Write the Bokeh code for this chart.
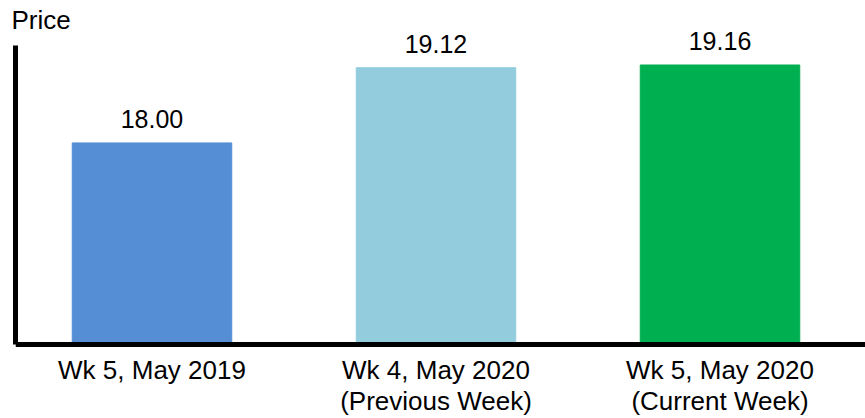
from bokeh.plotting import figure
from bokeh.models import Range1d, LabelSet, ColumnDataSource, FixedTicker, Title
from bokeh.core.properties import value
from bokeh.embed import file_html
from bokeh.resources import INLINE

categories = ["Wk 5, May 2019", "Wk 4, May 2020\n(Previous Week)", "Wk 5, May 2020\n(Current Week)"]
prices = [18.00, 19.12, 19.16]
price_labels = ["18.00", "19.12", "19.16"]
colors = ["#558ED5", "#93CDDD", "#00B050"]
y_base = 15.0            # value where the bars and the x axis start
y_start, y_end = 13.899, 19.703
axis_top = 19.45

FONT = "Liberation Sans"
xs = list(range(len(categories)))
src = ColumnDataSource(dict(x=xs, price=prices, label=price_labels, color=colors))

p = figure(width=865, height=418, output_backend="svg", toolbar_location=None,
           x_range=Range1d(-0.4806, 2.5123), y_range=Range1d(y_start, y_end),
           min_border_left=15, min_border_right=0, min_border_top=28, min_border_bottom=0)
p.title = Title(text="Price", align="left", text_font_size="26px", text_font=FONT,
                text_font_style="normal", text_color="#000000", offset=-4, standoff=-13)

p.vbar(x="x", top="price", bottom=y_base, width=0.5616, color="color", source=src)

p.add_layout(LabelSet(x="x", y="price", text="label", source=src, y_offset=15,
                      text_align="center", text_baseline="alphabetic",
                      text_font_size="25px", text_font=value(FONT), text_color="#000000"))

p.xgrid.visible = False
p.ygrid.visible = False
p.outline_line_color = None

p.xaxis.fixed_location = y_base
p.xaxis.ticker = FixedTicker(ticks=xs)
p.xaxis.major_label_overrides = {i: c for i, c in zip(xs, categories)}
p.xaxis.major_label_text_font_size = "26px"
p.xaxis.major_label_text_font = FONT
p.xaxis.major_label_text_color = "#000000"
p.xaxis.major_label_text_line_height = 1.06
p.xaxis.major_tick_in = 0
p.xaxis.major_tick_out = 0
p.xaxis.minor_tick_in = 0
p.xaxis.minor_tick_out = 0
p.xaxis.major_label_standoff = 10
p.xaxis.axis_line_width = 5
p.xaxis.axis_line_color = "#000000"

p.yaxis.ticker = FixedTicker(ticks=[])
p.yaxis.bounds = (y_base, axis_top)
p.yaxis.major_label_text_font_size = "0px"
p.yaxis.major_tick_in = 0
p.yaxis.major_tick_out = 0
p.yaxis.minor_tick_in = 0
p.yaxis.minor_tick_out = 0
p.yaxis.major_label_standoff = 0
p.yaxis.axis_line_width = 5
p.yaxis.axis_line_color = "#000000"

open("out.html", "w").write(file_html(p, INLINE))
